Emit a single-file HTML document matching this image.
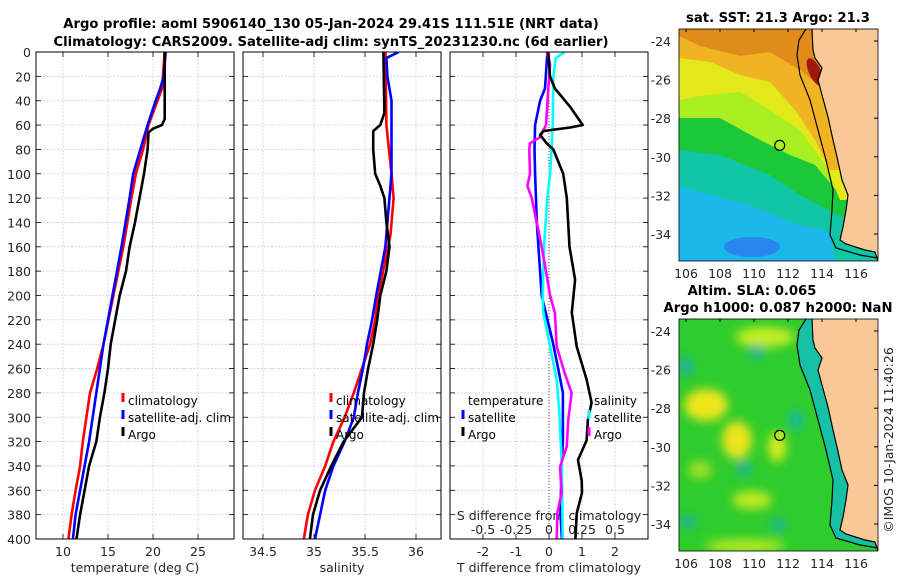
<!DOCTYPE html>
<html><head><meta charset="utf-8"><style>
html,body{margin:0;padding:0;background:#fff;}
svg{display:block;font-family:"DejaVu Sans","Liberation Sans",sans-serif;}
.tk{font-size:12.5px;fill:#262626;}
.lg{font-size:12px;fill:#000;}
.ttl{font-size:13.2px;font-weight:bold;fill:#000;}
</style></head><body>
<svg id="fig" width="900" height="580" viewBox="0 0 900 580">
<defs>
<filter id="blur5" x="-50%" y="-50%" width="200%" height="200%"><feGaussianBlur stdDeviation="5"/></filter>
<clipPath id="clipTop"><rect x="679" y="29" width="199" height="232"/></clipPath>
<clipPath id="clipBot"><rect x="679" y="319" width="199" height="232"/></clipPath>
<clipPath id="c1"><rect x="36" y="52" width="198" height="487"/></clipPath>
<clipPath id="c2"><rect x="243" y="52" width="198" height="487"/></clipPath>
<clipPath id="c3"><rect x="450" y="52" width="198" height="487"/></clipPath>
</defs>
<text class="ttl" x="331" y="28" text-anchor="middle">Argo profile: aoml 5906140_130 05-Jan-2024 29.41S 111.51E (NRT data)</text>
<text class="ttl" x="331" y="46" text-anchor="middle">Climatology: CARS2009. Satellite-adj clim: synTS_20231230.nc (6d earlier)</text>

<!-- top map -->
<g clip-path="url(#clipTop)">
<rect x="679" y="29" width="199" height="232" fill="#1cb8ea"/>
<ellipse cx="752" cy="247" rx="28" ry="10" fill="#2a84ee"/>
<polygon fill="#10c6a6" points="679,29 878,29 878,261 835,261 830,232 790,222 750,205 700,192 679,186"/>
<polygon fill="#1ac83a" points="679,29 878,29 878,232 838,215 800,195 770,175 720,155 679,150"/>
<polygon fill="#a8ee20" points="679,29 878,29 878,205 836,190 815,165 790,155 760,140 720,118 679,118"/>
<polygon fill="#e4e81a" points="679,29 878,29 878,200 840,200 825,165 800,130 770,110 740,92 700,96 679,100"/>
<polygon fill="#f0b422" points="679,29 878,29 878,170 830,170 815,140 795,110 770,82 740,75 710,62 679,58"/>
<polygon fill="#e08c1a" points="679,29 878,29 878,80 812,80 800,70 770,52 740,56 700,46 679,36"/>
<ellipse cx="815" cy="72" rx="6" ry="15" transform="rotate(-25 815 72)" fill="#9e1a10"/>
<polygon fill="#fac896" points="812,29 813,50 815,58 822,68 818,80 822,95 828,117 833,140 837,157 842,180 848,195 846,210 843,227 840,240 846,244 865,250 875,252 878,261 878,29"/>
<polyline fill="none" stroke="#000" stroke-width="1.2" points="812,29 813,50 815,58 822,68 818,80 822,95 828,117 833,140 837,157 842,180 848,195 846,210 843,227 840,240 846,244 865,250 875,252 878,261"/>
<polyline fill="none" stroke="#000" stroke-width="1.2" points="806,29 799,40 797,55 800,75 810,100 818,130 826,160 833,190 832,210 830,235 836,248 860,255 878,258"/>
<circle cx="779.7" cy="145.4" r="5" fill="none" stroke="#000" stroke-width="1.2"/>
</g>
<rect x="679" y="29" width="199" height="232" fill="none" stroke="#000" stroke-width="0.8"/>
<text class="ttl" x="778" y="22" text-anchor="middle">sat. SST: 21.3 Argo: 21.3</text>

<!-- bottom map -->
<g clip-path="url(#clipBot)">
<rect x="679" y="319" width="199" height="232" fill="#2ecc2c"/>
<g filter="url(#blur5)">
<ellipse cx="706" cy="405" rx="22" ry="16" fill="#eee61a"/>
<ellipse cx="737" cy="440" rx="15" ry="19" fill="#ece41c"/>
<ellipse cx="777" cy="447" rx="9" ry="15" fill="#d6ec1e"/>
<ellipse cx="765" cy="337" rx="30" ry="10" fill="#c6ee20"/>
<ellipse cx="752" cy="500" rx="20" ry="9" fill="#c0ea22"/>
<ellipse cx="745" cy="546" rx="40" ry="7" fill="#b6e824"/>
<ellipse cx="700" cy="470" rx="12" ry="9" fill="#9ee226"/>
<ellipse cx="757" cy="352" rx="8" ry="7" fill="#1cb49e"/>
<ellipse cx="796" cy="420" rx="7" ry="10" fill="#18b8aa"/>
<ellipse cx="744" cy="468" rx="8" ry="7" fill="#1cb49e"/>
<ellipse cx="778" cy="525" rx="7" ry="7" fill="#1cb4a4"/>
<ellipse cx="688" cy="522" rx="8" ry="7" fill="#1cb49e"/>
<ellipse cx="686" cy="366" rx="8" ry="10" fill="#1cb49e"/>
</g>
<polygon fill="#16c0a4" points="806,319 799,330 797,345 800,365 810,390 818,420 826,450 833,480 832,500 830,525 836,538 860,545 878,548 878,551 875,542 865,540 846,534 840,530 843,517 846,500 848,485 842,470 837,447 833,430 828,407 822,385 818,370 822,358 815,348 813,340 812,319"/>
<polygon fill="#fac896" points="812,319 813,340 815,348 822,358 818,370 822,385 828,407 833,430 837,447 842,470 848,485 846,500 843,517 840,530 846,534 865,540 875,542 878,551 878,319"/>
<polyline fill="none" stroke="#000" stroke-width="1.2" points="812,319 813,340 815,348 822,358 818,370 822,385 828,407 833,430 837,447 842,470 848,485 846,500 843,517 840,530 846,534 865,540 875,542 878,551"/>
<polyline fill="none" stroke="#000" stroke-width="1.2" points="806,319 799,330 797,345 800,365 810,390 818,420 826,450 833,480 832,500 830,525 836,538 860,545 878,548"/>
<circle cx="779.7" cy="435.4" r="5" fill="#a8e626" stroke="#000" stroke-width="1.2"/>
</g>
<rect x="679" y="319" width="199" height="232" fill="none" stroke="#000" stroke-width="0.8"/>
<text class="ttl" x="752" y="295" text-anchor="middle">Altim. SLA: 0.065</text>
<text class="ttl" x="778" y="312" text-anchor="middle">Argo h1000: 0.087 h2000: NaN</text>
<text class="tk" transform="translate(893,440) rotate(-90)" text-anchor="middle">©IMOS 10-Jan-2024 11:40:26</text>
<g id="dyn"></g>
</svg>
<script>
// ---- temperature profiles ----
const tDepthClim = [0,30,60,80,100,120,160,200,240,260,280,300,320,340,360,380,400];
const tClim      = [21.3,21.0,19.5,18.9,18.1,17.6,16.7,15.6,14.5,13.8,13.0,12.6,12.2,11.9,11.4,10.96,10.6];
const tDepthSat  = [0,20,30,40,60,80,100,120,160,200,240,260,280,300,320,340,360,380,400];
const tSat       = [21.4,21.2,20.8,20.3,19.4,18.6,17.8,17.4,16.5,15.5,14.5,14.1,13.7,13.3,12.9,12.4,11.9,11.4,11.1];
const tDepthArgo = [0,30,55,60,63,66,80,100,120,140,160,180,200,240,260,280,300,320,330,340,360,380,400];
const tArgo      = [21.3,21.3,21.3,21.0,20.0,19.5,19.4,19.0,18.5,18.0,17.4,17.0,16.3,15.3,15.0,14.6,14.1,13.7,13.3,12.9,12.4,11.9,11.5];
// ---- salinity profiles ----
const sDepthClim = [0,60,100,120,150,200,220,240,260,280,300,320,340,360,380,400];
const sClim      = [35.70,35.71,35.76,35.78,35.75,35.63,35.60,35.55,35.47,35.39,35.30,35.19,35.11,35.01,34.94,34.90];
const sDepthSat  = [0,5,20,40,100,140,160,200,220,240,260,280,300,320,340,360,380,400];
const sSat       = [35.83,35.71,35.72,35.76,35.76,35.72,35.70,35.61,35.57,35.52,35.48,35.43,35.39,35.30,35.19,35.11,35.06,35.01];
const sDepthArgo = [0,50,60,65,80,100,110,120,140,160,180,200,220,240,260,280,300,320,340,360,380,400];
const sArgo      = [35.68,35.69,35.65,35.58,35.58,35.60,35.65,35.69,35.71,35.74,35.71,35.65,35.62,35.58,35.53,35.49,35.47,35.29,35.17,35.06,34.99,34.96];
// ---- differences from climatology ----
const dDepthTSat = [0,30,40,60,80,100,140,200,239,260,280,319,341,379,400];
const dTSat      = [-0.05,-0.12,-0.27,-0.42,-0.44,-0.42,-0.37,-0.22,0.12,0.28,0.42,0.42,0.38,0.35,0.39];
const dDepthTArgo= [0,20,30,45,60,62,65,68,75,80,100,120,160,187,214,242,269,288,302,319,335,352,362,379,400];
const dTArgo     = [-0.02,0.03,0.18,0.64,1.02,0.64,-0.17,-0.27,-0.07,0.13,0.43,0.54,0.62,0.79,0.69,0.84,1.14,1.29,1.18,1.14,0.88,0.99,1.0,0.84,0.8];
const dDepthSSat = [0,5,20,60,80,100,120,160,200,214,242,269,295,341,400];
const dSSat      = [0.12,0.05,0.033,0.028,0.02,0.008,-0.013,-0.038,-0.048,-0.043,0.008,0.058,0.078,0.098,0.104];
const dDepthSArgo= [0,10,30,50,60,70,75,80,100,110,120,140,160,180,200,210,214,242,264,280,302,324,341,362,379,400];
const dSArgo     = [-0.017,0.008,-0.005,-0.017,-0.023,-0.068,-0.144,-0.149,-0.144,-0.164,-0.131,-0.093,-0.055,-0.023,0.008,0.033,0.045,0.058,0.12,0.171,0.146,0.134,0.083,0.096,0.063,0.058];
const tTicks = [10,15,20,25];
const sTicks = [34.5,35,35.5,36];
const dTTicks = [-2,-1,0,1,2];
const dSTicks = [-0.5,-0.25,0,0.25,0.5];
const depthTicks = [0,20,40,60,80,100,120,140,160,180,200,220,240,260,280,300,320,340,360,380,400];
const latTicks = [-24,-26,-28,-30,-32,-34];
const lonTicks = [106,108,110,112,114,116];

const NS='http://www.w3.org/2000/svg';
const root=document.getElementById('dyn');
function el(tag,attrs,parent,txt){const e=document.createElementNS(NS,tag);for(const k in attrs)e.setAttribute(k,attrs[k]);if(txt!==undefined)e.textContent=txt;(parent||root).appendChild(e);return e;}
const yTop=52,yBot=539;
const yDepth=d=>yTop+(d/400)*(yBot-yTop);
const xT=v=>36+(v-7)*9;
const xS=v=>243+(v-34.304)*102;
const xDT=v=>549+v*33;
const xDS=v=>549+v*132;
const panels=[{x0:36,clip:'c1',name:'temperature-panel'},{x0:243,clip:'c2',name:'salinity-panel'},{x0:450,clip:'c3',name:'difference-panel'}];
const panelG=[];
panels.forEach((p,i)=>{
  const g=el('g',{});
  
  
  panelG.push(g);
  depthTicks.forEach(d=>{
    if(d>0&&d<400) el('line',{x1:p.x0,x2:p.x0+198,y1:yDepth(d),y2:yDepth(d),stroke:'#c8cce8','stroke-width':0.8,'stroke-dasharray':'2,1.5'},g);
    el('line',{x1:p.x0,x2:p.x0+5,y1:yDepth(d),y2:yDepth(d),stroke:'#000','stroke-width':0.8},g);
    el('line',{x1:p.x0+193,x2:p.x0+198,y1:yDepth(d),y2:yDepth(d),stroke:'#000','stroke-width':0.8},g);
  });
});
function vgrid(g,xs){xs.forEach(x=>{el('line',{x1:x,x2:x,y1:yTop,y2:yBot,stroke:'#c8cce8','stroke-width':0.8,'stroke-dasharray':'2,1.5'},g);el('line',{x1:x,x2:x,y1:yBot,y2:yBot-5,stroke:'#000','stroke-width':0.8},g);el('line',{x1:x,x2:x,y1:yTop,y2:yTop+5,stroke:'#000','stroke-width':0.8},g);});}
vgrid(panelG[0],tTicks.map(xT));
vgrid(panelG[1],sTicks.map(xS));
vgrid(panelG[2],dTTicks.map(xDT));
depthTicks.forEach(d=>{el('text',{class:'tk',x:31,y:yDepth(d)+5,'text-anchor':'end'},panelG[0],String(d));});
tTicks.forEach(v=>el('text',{class:'tk',x:xT(v),y:556,'text-anchor':'middle'},panelG[0],String(v)));
sTicks.forEach(v=>el('text',{class:'tk',x:xS(v),y:556,'text-anchor':'middle'},panelG[1],String(v)));
dTTicks.forEach(v=>el('text',{class:'tk',x:xDT(v),y:556,'text-anchor':'middle'},panelG[2],String(v)));
dSTicks.forEach(v=>el('text',{class:'tk',x:xDS(v),y:534,'text-anchor':'middle'},panelG[2],String(v)));
el('text',{class:'tk',x:549,y:520,'text-anchor':'middle'},panelG[2],'S difference from climatology');
el('text',{class:'tk',x:135,y:572,'text-anchor':'middle'},panelG[0],'temperature (deg C)');
el('text',{class:'tk',x:342,y:572,'text-anchor':'middle'},panelG[1],'salinity');
el('text',{class:'tk',x:549,y:572,'text-anchor':'middle'},panelG[2],'T difference from climatology');
el('line',{x1:549,x2:549,y1:yTop,y2:yBot,stroke:'#555','stroke-width':1,'stroke-dasharray':'1,2'},panelG[2]);
function line(g,clip,depths,vals,xf,color,name,w){
  const pts=depths.map((d,i)=>xf(vals[i]).toFixed(1)+','+yDepth(d).toFixed(1)).join(' ');
  const pl=el('polyline',{points:pts,fill:'none',stroke:color,'stroke-width':w||2.6,'stroke-linejoin':'round','clip-path':'url(#'+clip+')'},g);
  
  
}
line(panelG[0],'c1',tDepthClim,tClim,xT,'#f00','temp-climatology-line');
line(panelG[0],'c1',tDepthSat,tSat,xT,'#00f','temp-satellite-line');
line(panelG[0],'c1',tDepthArgo,tArgo,xT,'#000','temp-argo-line');
line(panelG[1],'c2',sDepthClim,sClim,xS,'#f00','sal-climatology-line');
line(panelG[1],'c2',sDepthSat,sSat,xS,'#00f','sal-satellite-line');
line(panelG[1],'c2',sDepthArgo,sArgo,xS,'#000','sal-argo-line');
line(panelG[2],'c3',dDepthTSat,dTSat,xDT,'#00f','tdiff-satellite-line');
line(panelG[2],'c3',dDepthSSat,dSSat,xDS,'#0ff','sdiff-satellite-line');
line(panelG[2],'c3',dDepthSArgo,dSArgo,xDS,'#f0f','sdiff-argo-line');
line(panelG[2],'c3',dDepthTArgo,dTArgo,xDT,'#000','tdiff-argo-line');
panels.forEach((p,i)=>el('rect',{x:p.x0,y:yTop,width:198,height:487,fill:'none',stroke:'#000','stroke-width':1},panelG[i]));
function legend(g,x,y,items,name){
  const lg=el('g',{},g);
  
  
  items.forEach((it,i)=>{const yy=y+i*17;
    if(it[1]) el('line',{x1:x,x2:x,y1:yy-12,y2:yy-3,stroke:it[1],'stroke-width':3},lg);
    el('text',{class:'lg',x:x+5,y:yy},lg,it[0]);});
}
legend(panelG[0],123,405,[['climatology','#f00'],['satellite-adj. clim','#00f'],['Argo','#000']],'temp-legend');
legend(panelG[1],331,405,[['climatology','#f00'],['satellite-adj. clim','#00f'],['Argo','#000']],'sal-legend');
legend(panelG[2],463,405,[['temperature',null],['satellite','#00f'],['Argo','#000']],'tdiff-legend');
legend(panelG[2],589,405,[['salinity',null],['satellite','#0ff'],['Argo','#f0f']],'sdiff-legend');
// map ticks
const mapX=lon=>686+(lon-106)*17, mapY=(lat,off)=>41+off+(-24-lat)*19.3;
[0,290].forEach((off,mi)=>{
  const mg=el('g',{});
  
  
  latTicks.forEach(l=>{el('text',{class:'tk',x:671,y:mapY(l,off)+5,'text-anchor':'end'},mg,String(l));
    el('line',{x1:874,x2:878,y1:mapY(l,off),y2:mapY(l,off),stroke:'#000'},mg);});
  lonTicks.forEach(l=>{el('text',{class:'tk',x:mapX(l),y:off+278,'text-anchor':'middle'},mg,String(l));
    el('line',{x1:mapX(l),x2:mapX(l),y1:off+29,y2:off+32,stroke:'#000'},mg);});
});
</script>
</body></html>
